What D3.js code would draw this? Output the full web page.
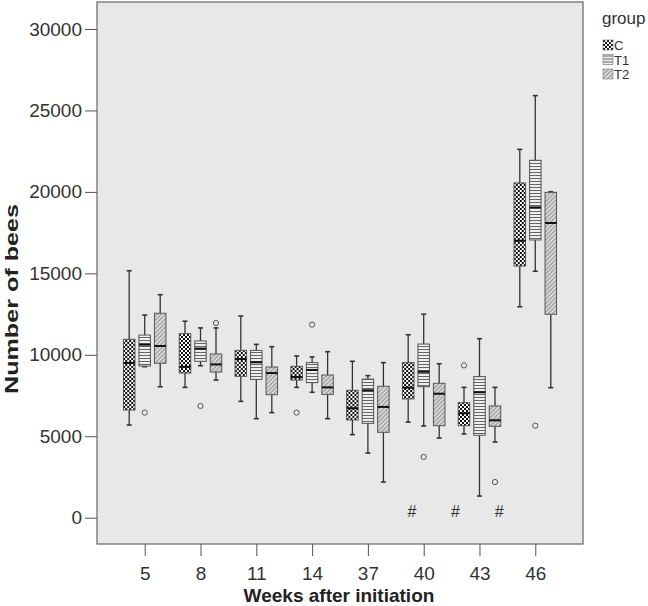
<!doctype html>
<html lang="en">
  <head>
    <meta charset="utf-8">
    <title>Number of bees</title>
    <style>
      body { margin: 0; background: #fff; }
      text { font-family: "Liberation Sans", Arial, sans-serif; }
    </style>
  </head>
  <body>
    <script src="https://cdn.jsdelivr.net/npm/d3@7"></script>
    <script>

    // weeks after initiation (x categories) and treatment groups
    var weeks  = ["5", "8", "11", "14", "37", "40", "43", "46"];
    var groups = ["C", "T1", "T2"];

    // box stats per week: [lower whisker, Q1, median, Q3, upper whisker]
    var statsC = [
      [5690, 6610, 9500, 10950, 15160],
      [8000, 8880, 9260, 11300, 12060],
      [7140, 8680, 9740, 10270, 12380],
      [8000, 8450, 8640, 9290, 9930],
      [5100, 6000, 6720, 7820, 9600],
      [5870, 7290, 7980, 9520, 11230],
      [5140, 5650, 6410, 7060, 8000],
      [12950, 15450, 17000, 20550, 22610]
    ];
    var statsT1 = [
      [9270, 9310, 10620, 11210, 12440],
      [9330, 9600, 10380, 10850, 11650],
      [6080, 8490, 9540, 10270, 10640],
      [7700, 8290, 9070, 9520, 9870],
      [3970, 5790, 7820, 8510, 8720],
      [5630, 8040, 8960, 10660, 12490],
      [1330, 5060, 7700, 8660, 10990],
      [15130, 17050, 19050, 21940, 25910]
    ];
    var statsT2 = [
      [8040, 9480, 10540, 12550, 13690],
      [8450, 8940, 9410, 10050, 11650],
      [6450, 7550, 8880, 9250, 10500],
      [6080, 7570, 8000, 8760, 10190],
      [2190, 5240, 6800, 8070, 9520],
      [4890, 5650, 7610, 8250, 9450],
      [4650, 5610, 5980, 6860, 8000],
      [7980, 12490, 18090, 19970, 20010]
    ];

    // outliers: week, group, value
    var outWeek  = ["5", "8", "8", "14", "14", "40", "43", "43", "46"];
    var outGroup = ["T1", "T1", "T2", "C", "T1", "T1", "C", "T2", "T1"];
    var outValue = [6450, 6860, 11950, 6450, 11850, 3730, 9350, 2190, 5650];

    // "#" annotations under these weeks
    var hashWeeks = ["40", "43", "43"];

    var yTicks = [0, 5000, 10000, 15000, 20000, 25000, 30000];

    var W = 648, H = 606;
    var plot = {left: 97, right: 583, top: 2, bottom: 544};

    var svg = d3.select("body").append("svg")
      .attr("width", W)
      .attr("height", H);

    // patterns for the groups
    var defs = svg.append("defs");

    var pc = defs.append("pattern")
      .attr("id", "pat-C")
      .attr("patternUnits", "userSpaceOnUse")
      .attr("width", 4).attr("height", 4);
    pc.append("rect").attr("width", 4).attr("height", 4).attr("fill", "#fff");
    pc.append("rect").attr("width", 2).attr("height", 2).attr("fill", "#111");
    pc.append("rect").attr("x", 2).attr("y", 2).attr("width", 2).attr("height", 2).attr("fill", "#111");

    var p1 = defs.append("pattern")
      .attr("id", "pat-T1")
      .attr("patternUnits", "userSpaceOnUse")
      .attr("width", 4).attr("height", 3);
    p1.append("rect").attr("width", 4).attr("height", 3).attr("fill", "#eee");
    p1.append("line").attr("x1", 0).attr("x2", 4).attr("y1", 1.5).attr("y2", 1.5)
      .attr("stroke", "#666").attr("stroke-width", 1);

    var p2 = defs.append("pattern")
      .attr("id", "pat-T2")
      .attr("patternUnits", "userSpaceOnUse")
      .attr("width", 3).attr("height", 3)
      .attr("patternTransform", "rotate(45)");
    p2.append("rect").attr("width", 3).attr("height", 3).attr("fill", "#eee");
    p2.append("line").attr("x1", 1).attr("x2", 1).attr("y1", 0).attr("y2", 3)
      .attr("stroke", "#666").attr("stroke-width", 1);

    var x = d3.scalePoint()
      .domain(weeks)
      .range([plot.left, plot.right])
      .padding(0.855);

    var xg = d3.scalePoint()
      .domain(groups)
      .range([-15.5, 15.5]);

    var y = d3.scaleLinear()
      .domain([0, 30000])
      .range([517.7, 29]);

    var boxW = 11.5, capW = 5;

    // plot background
    svg.append("rect")
      .attr("x", plot.left)
      .attr("y", plot.top)
      .attr("width", plot.right - plot.left)
      .attr("height", plot.bottom - plot.top)
      .attr("fill", "#e8e8e8")
      .attr("stroke", "#666")
      .attr("stroke-width", 1.2);

    // axes
    var yAxis = svg.append("g")
      .attr("transform", "translate(" + plot.left + ",0)")
      .call(d3.axisLeft(y).tickValues(yTicks).tickSize(12).tickPadding(3).tickFormat(d3.format("d")));
    yAxis.select(".domain").remove();
    yAxis.selectAll("line").attr("stroke", "#555");
    yAxis.selectAll("text").attr("font-size", 19).attr("fill", "#333")
      .style("font-family", "Liberation Sans, Arial, sans-serif");

    var xAxis = svg.append("g")
      .attr("transform", "translate(0," + plot.bottom + ")")
      .call(d3.axisBottom(x).tickSize(12).tickPadding(11));
    xAxis.select(".domain").remove();
    xAxis.selectAll("line").attr("stroke", "#555");
    xAxis.selectAll("text").attr("font-size", 19).attr("fill", "#333")
      .style("font-family", "Liberation Sans, Arial, sans-serif");

    // box data
    var allStats = {C: statsC, T1: statsT1, T2: statsT2};
    var boxes = [];
    groups.forEach(function(g){
      weeks.forEach(function(w, i){
        var s = allStats[g][i];
        boxes.push({week: w, group: g, lo: s[0], q1: s[1], med: s[2], q3: s[3], hi: s[4]});
      });
    });

    var bx = svg.selectAll(".box")
      .data(boxes)
      .enter()
      .append("g")
      .attr("class", "box")
      .attr("transform", function(d){ return "translate(" + (x(d.week) + xg(d.group)) + ",0)"; });

    // whiskers
    bx.append("line")
      .attr("x1", 0).attr("x2", 0)
      .attr("y1", function(d){ return y(d.hi); })
      .attr("y2", function(d){ return y(d.q3); })
      .attr("stroke", "#333").attr("stroke-width", 1.3);
    bx.append("line")
      .attr("x1", 0).attr("x2", 0)
      .attr("y1", function(d){ return y(d.q1); })
      .attr("y2", function(d){ return y(d.lo); })
      .attr("stroke", "#333").attr("stroke-width", 1.3);
    bx.append("line")
      .attr("x1", -capW / 2).attr("x2", capW / 2)
      .attr("y1", function(d){ return y(d.hi); })
      .attr("y2", function(d){ return y(d.hi); })
      .attr("stroke", "#333").attr("stroke-width", 1.6);
    bx.append("line")
      .attr("x1", -capW / 2).attr("x2", capW / 2)
      .attr("y1", function(d){ return y(d.lo); })
      .attr("y2", function(d){ return y(d.lo); })
      .attr("stroke", "#333").attr("stroke-width", 1.6);

    // boxes
    bx.append("rect")
      .attr("x", -boxW / 2)
      .attr("width", boxW)
      .attr("y", function(d){ return y(d.q3); })
      .attr("height", function(d){ return y(d.q1) - y(d.q3); })
      .attr("fill", function(d){ return "url(#pat-" + d.group + ")"; })
      .attr("stroke", "#555")
      .attr("stroke-width", 1);

    // medians
    bx.append("line")
      .attr("x1", -boxW / 2).attr("x2", boxW / 2)
      .attr("y1", function(d){ return y(d.med); })
      .attr("y2", function(d){ return y(d.med); })
      .attr("stroke", "#111").attr("stroke-width", 2);

    // outliers
    svg.selectAll(".outlier")
      .data(outValue)
      .enter()
      .append("circle")
      .attr("class", "outlier")
      .attr("cx", function(d, i){ return x(outWeek[i]) + xg(outGroup[i]); })
      .attr("cy", function(d){ return y(d); })
      .attr("r", 2.6)
      .attr("fill", "none")
      .attr("stroke", "#555")
      .attr("stroke-width", 1);

    // # marks
    var hashOffsets = [-11.7, -24, 19.7];
    svg.selectAll(".hash")
      .data(hashWeeks)
      .enter()
      .append("text")
      .attr("class", "hash")
      .attr("x", function(d, i){ return x(d) + hashOffsets[i]; })
      .attr("y", 517)
      .attr("text-anchor", "middle")
      .attr("font-size", 16)
      .attr("fill", "#333")
      .text("#");

    // axis titles
    svg.append("text")
      .attr("x", (plot.left + plot.right) / 2 - 1)
      .attr("y", 602)
      .attr("text-anchor", "middle")
      .attr("font-size", 19)
      .attr("font-weight", "bold")
      .attr("fill", "#222")
      .text("Weeks after initiation");

    svg.append("text")
      .attr("transform", "translate(18,299) rotate(-90)")
      .attr("text-anchor", "middle")
      .attr("font-size", 18)
      .attr("font-weight", "bold")
      .attr("fill", "#222")
      .attr("textLength", 190)
      .attr("lengthAdjust", "spacingAndGlyphs")
      .text("Number of bees");

    // legend
    var legend = svg.append("g").attr("transform", "translate(602,0)");
    legend.append("text")
      .attr("x", 0).attr("y", 24)
      .attr("font-size", 17)
      .attr("fill", "#333")
      .text("group");

    var li = legend.selectAll(".li")
      .data(groups)
      .enter()
      .append("g")
      .attr("class", "li")
      .attr("transform", function(d, i){ return "translate(1," + (40 + i * 14.5) + ")"; });
    li.append("rect")
      .attr("width", 10).attr("height", 10)
      .attr("fill", function(d){ return "url(#pat-" + d + ")"; })
      .attr("stroke", "#777").attr("stroke-width", 0.6);
    li.append("text")
      .attr("x", 11).attr("y", 10)
      .attr("font-size", 13)
      .attr("fill", "#333")
      .text(function(d){ return d; });

    </script>
  </body>
</html>
